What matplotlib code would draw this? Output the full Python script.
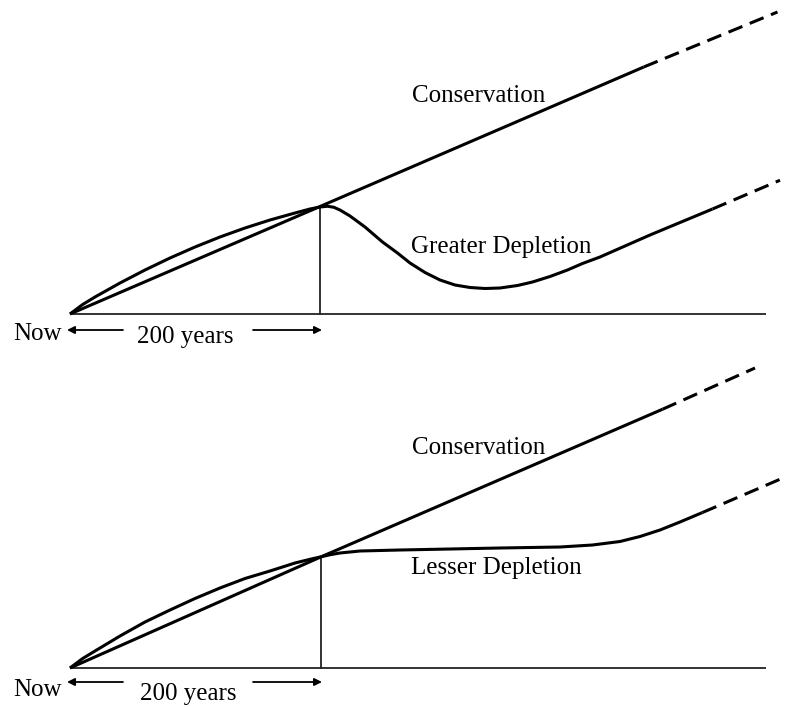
import matplotlib
matplotlib.use("Agg")
import matplotlib.pyplot as plt

# ---------------- data (years from now, arbitrary welfare units) ----------------
span_years = 200

# top panel
top_cons_years = [0, 200, 459, 566]
top_cons_vals = [0, 86, 197.6, 241.6]
top_cons_dash_from = 2  # index where the dashed extension starts

top_dep_years = [0, 10, 20, 40, 60, 80, 100, 120, 140, 160, 180, 192, 200, 206, 211,
                 216, 224, 236, 250, 262, 272, 284, 296, 308, 320, 332, 344, 358,
                 370, 384, 398, 410, 424, 464, 514, 568]
top_dep_vals = [0, 7.5, 13.6, 24.8, 35.2, 44.8, 53.6, 61.6, 68.8, 75.2, 80.8, 84,
                85.6, 86.2, 85.4, 83.2, 78.4, 69.6, 57.6, 48.8, 40.8, 33.2, 27.2,
                23.2, 21.2, 20.4, 20.8, 22.8, 25.6, 30, 35.2, 40.4, 45.6, 63.2, 84, 107]
top_dep_dash_from = 34

# bottom panel
bot_cons_years = [0, 201, 474, 548]
bot_cons_vals = [0, 89, 207, 240]
bot_cons_dash_from = 2

bot_dep_years = [0, 10, 20, 40, 60, 80, 100, 120, 140, 160, 180, 193, 201, 208, 216,
                 232, 264, 304, 344, 392, 418, 440, 456, 472, 488, 506, 568]
bot_dep_vals = [0, 7.5, 13.6, 25.6, 36.8, 46.4, 55.6, 64, 71.6, 77.6, 84, 87.2, 89,
                90.6, 92, 93.6, 94.4, 95.2, 96, 96.8, 98.4, 101.2, 105.2, 110.4,
                116.8, 124.4, 151]
bot_dep_dash_from = 25

base_end = 557

# ---------------- drawing ----------------
W, H = 786, 707
fig = plt.figure(figsize=(W / 100, H / 100), dpi=100)
fig.patch.set_facecolor("white")

FONT = "Liberation Serif"
FS = 18
LW = 2.2


def panel(ax, cx, cy, cdash, dx, dy, ddash, lab_cons, lab_dep, dep_y_lab, cons_y_lab,
          arrow_y, text_y, years_x):
    ax.set_xlim(-56, 572.8)
    ax.axis("off")
    # baseline
    ax.plot([0, base_end], [0, 0], color="#333333", lw=1.4, solid_capstyle="butt")
    # vertical marker at 200 years
    ax.plot([cx[1], cx[1]], [0, cy[1]], color="#222222", lw=1.3)
    # conservation
    ax.plot(cx[:cdash + 1], cy[:cdash + 1], color="black", lw=LW,
            solid_capstyle="butt", solid_joinstyle="round")
    ax.plot(cx[cdash:], cy[cdash:], color="black", lw=LW, dashes=(4.9, 2.6),
            dash_capstyle="butt")
    # depletion
    ax.plot(dx[:ddash + 1], dy[:ddash + 1], color="black", lw=LW,
            solid_capstyle="butt", solid_joinstyle="round")
    ax.plot(dx[ddash:], dy[ddash:], color="black", lw=LW, dashes=(4.9, 2.6),
            dash_capstyle="butt")
    # labels
    ax.text(273.6, cons_y_lab, lab_cons, fontsize=FS, family=FONT, ha="left", va="baseline")
    ax.text(272.5, dep_y_lab, lab_dep, fontsize=FS, family=FONT, ha="left", va="baseline")
    ax.text(-6.4, text_y + 3, "Now", fontsize=FS, family=FONT, ha="right", va="baseline")
    ax.text(years_x, text_y, f"{span_years} years", fontsize=FS, family=FONT,
            ha="left", va="baseline")
    ap = dict(arrowstyle="-|>", lw=1.3, color="black", mutation_scale=11,
              shrinkA=0, shrinkB=0)
    ax.annotate("", xy=(-2.4, arrow_y), xytext=(42.4, arrow_y), arrowprops=ap)
    ax.annotate("", xy=(span_years + 1.6, arrow_y), xytext=(146.4, arrow_y), arrowprops=ap)


ax1 = fig.add_axes([0, 0.5, 1, 0.5])
ax1.set_ylim(-31.6, 251.2)
panel(ax1, top_cons_years, top_cons_vals, top_cons_dash_from,
      top_dep_years, top_dep_vals, top_dep_dash_from,
      "Conservation", "Greater Depletion", 48.6, 170, -12.8, -23.5, 53.6)

ax2 = fig.add_axes([0, 0, 1, 0.5])
ax2.set_ylim(-31.2, 251.6)
panel(ax2, bot_cons_years, bot_cons_vals, bot_cons_dash_from,
      bot_dep_years, bot_dep_vals, bot_dep_dash_from,
      "Conservation", "Lesser Depletion", 75, 171, -11.2, -25.6, 56)

fig.savefig("out.png", dpi=100, facecolor="white")
